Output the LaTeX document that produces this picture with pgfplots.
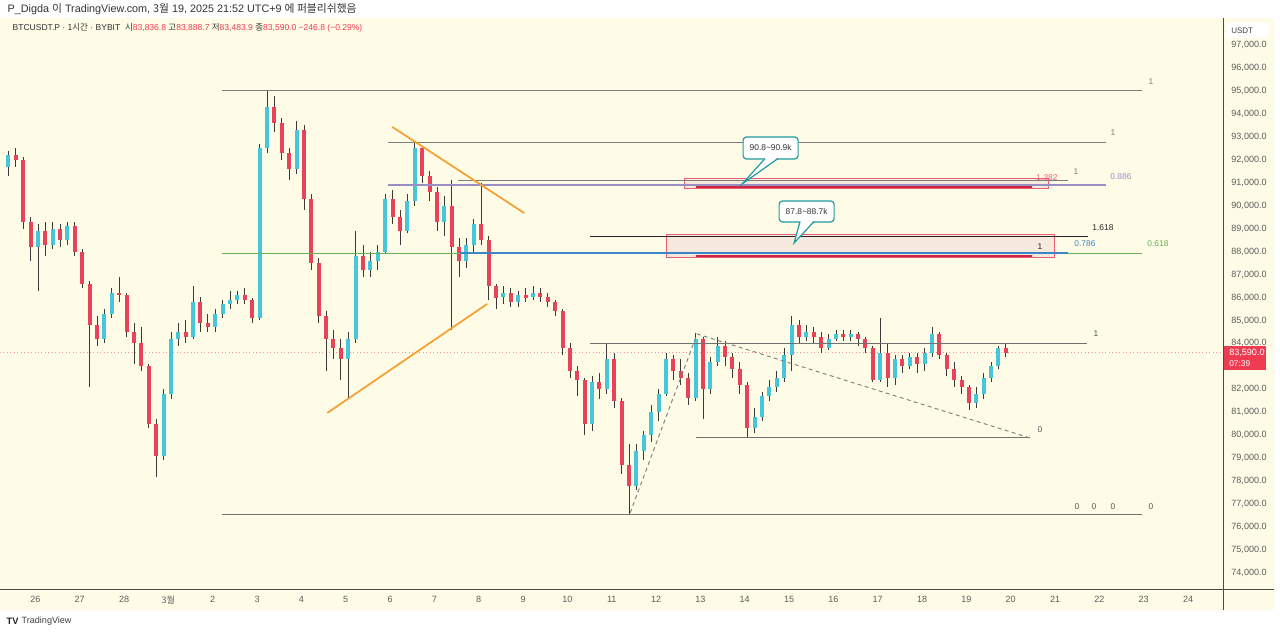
\documentclass[border=0pt]{standalone}
\usepackage{pgfplots}
\pgfplotsset{compat=1.18}
\usepackage{pgfplotstable}
\usepackage{fontspec}
\setmainfont{Liberation Sans}
\newfontfamily\kr{Noto Sans CJK KR}
\definecolor{cream}{HTML}{FEFCE6}
\definecolor{upc}{HTML}{45C6DB}
\definecolor{dnc}{HTML}{E8435A}
\definecolor{wickc}{HTML}{3A3A3A}
\definecolor{fibgray}{HTML}{7E7E7E}
\definecolor{fibpurple}{HTML}{9A8FC4}
\definecolor{fibblue}{HTML}{3D85C6}
\definecolor{fibgreen}{HTML}{6AAF5B}
\definecolor{boxred}{HTML}{EE5C74}
\definecolor{boxfill}{HTML}{F6EADF}
\definecolor{dred}{HTML}{D0253E}
\definecolor{orng}{HTML}{F5A030}
\definecolor{teal2}{HTML}{1F9AA0}
\definecolor{pricered}{HTML}{EF3B52}
\definecolor{labgray}{HTML}{5D5D5D}
\definecolor{axisc}{HTML}{4A4A4A}
\tikzset{lab/.style={font=\fontsize{6.3}{7}\selectfont, inner sep=0pt}}
\pgfplotstableread{
k o h l c
0 91700 92400 91300 92200
1 92200 92500 91700 92000
2 92000 92100 89000 89300
3 89300 89500 87600 88200
4 88200 89200 86300 88900
5 88900 89300 87800 88300
6 88300 89300 88100 89000
7 89000 89200 88200 88500
8 88500 89300 88300 89100
9 89100 89300 87800 88000
10 88000 88100 86400 86600
11 86600 86700 82100 84800
12 84800 85200 83900 84200
13 84200 85500 84000 85300
14 85300 86400 85100 86200
15 86200 86900 85800 86100
16 86100 86200 84300 84500
17 84500 84900 83100 84000
18 84000 84700 82800 83000
19 83000 83100 80300 80500
20 80500 80700 78200 79100
21 79100 82000 78900 81800
22 81800 84500 81600 84200
23 84200 84900 83900 84500
24 84500 85000 84000 84300
25 84300 86500 84200 85800
26 85800 86000 84500 84900
27 84900 85300 84500 84700
28 84700 85500 84500 85300
29 85300 85900 85100 85700
30 85700 86300 85500 85900
31 85900 86300 85700 86100
32 86100 86400 85700 85900
33 85900 86000 84900 85100
34 85100 92700 85000 92500
35 92500 95050 92300 94300
36 94300 94800 93200 93600
37 93600 93800 92000 92300
38 92300 92500 91100 91600
39 91600 93700 91400 93300
40 93300 93500 89800 90300
41 90300 90500 87200 87500
42 87500 87700 84900 85200
43 85200 85400 82800 84200
44 84200 84600 83300 83800
45 83800 84200 82400 83300
46 83300 84500 81600 84200
47 84200 88900 84000 87800
48 87800 88300 86900 87200
49 87200 88000 86900 87600
50 87600 88300 87200 88000
51 88000 90500 87900 90300
52 90300 90700 89200 89500
53 89500 89800 88300 88900
54 88900 90500 88800 90200
55 90200 92800 90000 92500
56 92500 92600 91000 91300
57 91300 91500 90200 90600
58 90600 90800 88900 89300
59 89300 90400 88700 90000
60 90000 91100 84600 88200
61 88200 88600 86900 87600
62 87600 88600 87300 88300
63 88300 89400 88000 89200
64 89200 91000 88300 88500
65 88500 88700 85900 86500
66 86500 86600 85500 86000
67 86000 86500 85700 86200
68 86200 86400 85600 85800
69 85800 86300 85600 86100
70 86100 86400 85800 86000
71 86000 86500 85900 86200
72 86200 86400 85800 86000
73 86000 86200 85600 85800
74 85800 85900 85200 85400
75 85400 85500 83500 83800
76 83800 84000 82500 82800
77 82800 83000 81700 82400
78 82400 82500 80000 80500
79 80500 82600 80200 82300
80 82300 82700 81600 82000
81 82000 84000 81800 83300
82 83300 83600 81200 81500
83 81500 81600 78300 78700
84 78700 79600 76550 77800
85 77800 79600 77600 79300
86 79300 80200 78900 80000
87 80000 81300 79700 81000
88 81000 82000 80600 81800
89 81800 83600 81700 83300
90 83300 83500 82400 82800
91 82800 83300 82200 82500
92 82500 82700 81300 81600
93 81600 84450 81500 84200
94 84200 84300 80700 82000
95 82000 83400 81800 83200
96 83200 84300 83000 83900
97 83900 84100 83000 83400
98 83400 83600 82500 82900
99 82900 83200 81800 82200
100 82200 82300 79900 80300
101 80300 81200 80100 80800
102 80800 81900 80600 81700
103 81700 82400 81500 82100
104 82100 82800 81900 82500
105 82500 83800 82300 83500
106 83500 85200 82800 84800
107 84800 85000 84000 84300
108 84300 84800 84100 84500
109 84500 84700 84000 84300
110 84300 84500 83600 83800
111 83800 84400 83700 84200
112 84200 84600 84100 84400
113 84400 84600 84100 84300
114 84300 84600 84100 84400
115 84400 84500 83900 84200
116 84200 84300 83600 83800
117 83800 83900 82300 82400
118 82400 85100 82300 83600
119 83600 84000 82100 82500
120 82500 83500 82200 83300
121 83300 83500 82700 83000
122 83000 83600 82900 83400
123 83400 83600 82700 83100
124 83100 83800 82800 83600
125 83600 84700 83400 84400
126 84400 84500 83300 83500
127 83500 83600 82600 82900
128 82900 83200 82100 82400
129 82400 82600 81800 82100
130 82100 82200 81100 81400
131 81400 82100 81200 81800
132 81800 82700 81600 82500
133 82500 83200 82300 83000
134 83000 83900 82900 83800
135 83800 84000 83400 83590
}\candles
\begin{document}
\begin{tikzpicture}
\begin{scope}[x=0.75pt,y=-0.75pt,yshift=475.5pt]
\path[use as bounding box] (0,0) rectangle (1280,634);
\fill[white] (0,0) rectangle (1280,634);
\fill[cream] (0,18) rectangle (1274,610);
\end{scope}
\begin{axis}[at={(0pt,33pt)}, anchor=south west, scale only axis,
  width=916.5pt, height=429pt,
  xmin=-0.789, xmax=26.766, ymin=73265, ymax=98176,
  axis line style={draw=none}, tick style={draw=none},
  xtick={0,1,...,26},
  xticklabels={26,27,28,{\kr 3월},2,3,4,5,6,7,8,9,10,11,12,13,14,15,16,17,18,19,20,21,22,23,24},
  xticklabel style={anchor=center, yshift=-7.5pt, font=\fontsize{6.8}{8}\selectfont, text=labgray},
  ytick={74000,75000,76000,77000,78000,79000,80000,81000,82000,84000,85000,86000,87000,88000,89000,90000,91000,92000,93000,94000,95000,96000,97000},
  yticklabel pos=right,
  scaled y ticks=false,
  yticklabel style={anchor=west, xshift=3.5pt, font=\fontsize{6.8}{8}\selectfont, text=labgray,
    /pgf/number format/.cd, fixed, fixed zerofill, precision=1, 1000 sep={,}, assume math mode=true},
  clip=true,
]
% current price line
\draw[pricered!55, dotted, line width=0.6pt] (axis cs:-0.8,83590) -- (axis cs:26.8,83590);
% wicks
\addplot[draw=none, mark=none, forget plot,
  error bars/.cd, y dir=both, y explicit, error mark=none,
  error bar style={draw=wickc, line width=0.55pt}]
  table[x expr=\thisrow{k}/6-0.61, y expr=(\thisrow{h}+\thisrow{l})/2,
        y error expr=(\thisrow{h}-\thisrow{l})/2] {\candles};
% up bodies
\addplot[draw=none, mark=none, forget plot,
  x filter/.expression={\thisrow{c}>=\thisrow{o} ? x : nan},
  error bars/.cd, y dir=both, y explicit, error mark=none,
  error bar style={draw=upc, line width=3pt}]
  table[x expr=\thisrow{k}/6-0.61, y expr=(\thisrow{o}+\thisrow{c})/2,
        y error expr=abs(\thisrow{c}-\thisrow{o})/2] {\candles};
% down bodies
\addplot[draw=none, mark=none, forget plot,
  x filter/.expression={\thisrow{c}<\thisrow{o} ? x : nan},
  error bars/.cd, y dir=both, y explicit, error mark=none,
  error bar style={draw=dnc, line width=3pt}]
  table[x expr=\thisrow{k}/6-0.61, y expr=(\thisrow{o}+\thisrow{c})/2,
        y error expr=abs(\thisrow{c}-\thisrow{o})/2] {\candles};
% boxes
\filldraw[fill=boxfill, draw=boxred, line width=0.5pt] (axis cs:14.634,91207) rectangle (axis cs:22.841,90771);
\filldraw[fill=boxfill, draw=boxred, line width=0.5pt] (axis cs:14.228,88767) rectangle (axis cs:22.976,87765);
% fib lines
\draw[fibgray, line width=0.6pt] (axis cs:4.216,95000) -- (axis cs:24.960,95000);
\draw[fibgray, line width=0.6pt] (axis cs:7.959,92750) -- (axis cs:24.149,92750);
\draw[fibgray, line width=0.6pt] (axis cs:9.538,91080) -- (axis cs:23.292,91080);
\draw[fibpurple, line width=0.8pt] (axis cs:7.959,90900) -- (axis cs:24.149,90900);
\draw[dred, line width=1.1pt] (axis cs:14.904,90815) -- (axis cs:22.480,90815);
\draw[black!85, line width=0.6pt] (axis cs:12.514,88650) -- (axis cs:23.743,88650);
\draw[fibgreen, line width=0.6pt] (axis cs:4.216,87930) -- (axis cs:24.960,87930);
\draw[fibblue, line width=1.2pt] (axis cs:9.583,87950) -- (axis cs:23.292,87950);
\draw[dred, line width=1.1pt] (axis cs:14.904,87800) -- (axis cs:22.480,87800);
\draw[fibgray!90!black, line width=0.6pt] (axis cs:12.514,84000) -- (axis cs:23.721,84000);
\draw[fibgray!90!black, line width=0.8pt] (axis cs:14.904,79880) -- (axis cs:22.435,79880);
\draw[fibgray!90!black, line width=0.7pt] (axis cs:4.216,76550) -- (axis cs:24.960,76550);
% dashed
\draw[fibgray, line width=0.7pt, dash pattern=on 3pt off 2.5pt] (axis cs:13.416,76620) -- (axis cs:14.926,84410) -- (axis cs:22.435,79880);
% orange triangle
\draw[orng, line width=1.3pt] (axis cs:8.050,93430) -- (axis cs:11.026,89680);
\draw[orng, line width=1.3pt] (axis cs:6.584,80970) -- (axis cs:10.192,85720);
% labels
\node[lab, text=fibgray] at (axis cs:25.163,95388) {1};
\node[lab, text=fibgray] at (axis cs:24.307,93167) {1};
\node[lab, text=fibgray] at (axis cs:23.473,91468) {1};
\node[lab, text=fibpurple] at (axis cs:24.487,91250) {0.886};
\node[lab, text=pricered!80] at (axis cs:22.818,91207) {1.382};
\node[lab, text=black!85] at (axis cs:24.081,89028) {1.618};
\node[lab, text=black!85] at (axis cs:22.661,88200) {1};
\node[lab, text=fibblue] at (axis cs:23.675,88331) {0.786};
\node[lab, text=fibgreen] at (axis cs:25.321,88331) {0.618};
\node[lab, text=fibgray!70!black] at (axis cs:23.924,84411) {1};
\node[lab, text=fibgray!70!black] at (axis cs:22.661,80229) {0};
\node[lab, text=fibgray!70!black] at (axis cs:23.495,76876) {0};
\node[lab, text=fibgray!70!black] at (axis cs:23.878,76876) {0};
\node[lab, text=fibgray!70!black] at (axis cs:24.307,76876) {0};
\node[lab, text=fibgray!70!black] at (axis cs:25.163,76876) {0};
% callout 1
\filldraw[fill=white, draw=teal2, line width=0.9pt, rounded corners=2.5pt] (axis cs:15.964,92993) rectangle (axis cs:17.204,92034);
\fill[white] (axis cs:16.460,92100) -- (axis cs:15.941,90945) -- (axis cs:16.753,92100) -- cycle;
\draw[teal2, line width=0.9pt] (axis cs:16.460,92056) -- (axis cs:15.941,90945) -- (axis cs:16.753,92056);
\node[lab, text=black!80] at (axis cs:16.584,92513) {90.8\textasciitilde 90.9k};
% callout 2
\filldraw[fill=white, draw=teal2, line width=0.9pt, rounded corners=2.5pt] (axis cs:16.776,90205) rectangle (axis cs:18.016,89290);
\fill[white] (axis cs:17.249,89360) -- (axis cs:17.114,88375) -- (axis cs:17.565,89360) -- cycle;
\draw[teal2, line width=0.9pt] (axis cs:17.249,89312) -- (axis cs:17.114,88375) -- (axis cs:17.565,89312);
\node[lab, text=black!80] at (axis cs:17.396,89747) {87.8\textasciitilde 88.7k};
\end{axis}
\begin{scope}[x=0.75pt,y=-0.75pt,yshift=475.5pt]
\draw[axisc, line width=0.6pt] (0,590) -- (1274,590);
\draw[axisc, line width=0.6pt] (1223,18) -- (1223,610);
\node[anchor=west, inner sep=0pt, font=\fontsize{8.1}{9}\selectfont, text=black!80] at (7,9)
  {P\_Digda {\kr 이} TradingView.com, {\kr 3월} 19, 2025 21:52 UTC+9 {\kr 에 퍼블리쉬했음}};
\node[anchor=west, inner sep=0pt, font=\fontsize{6.4}{8}\selectfont, text=black!80] at (12,28)
  {BTCUSDT.P · {\kr 1시간} · BYBIT\ \ {\kr 시}\textcolor{pricered}{83,836.8}\ {\kr 고}\textcolor{pricered}{83,888.7}\ {\kr 저}\textcolor{pricered}{83,483.9}\ {\kr 종}\textcolor{pricered}{83,590.0}\ \textcolor{pricered}{−246.8 (−0.29\%)}};
\filldraw[fill=white, draw=white, rounded corners=1.5pt] (1226,23) rectangle (1268,38);
\node[anchor=west, inner sep=0pt, font=\fontsize{6}{7}\selectfont, text=black!75] at (1231,31) {USDT};
\fill[pricered] (1224,346) rectangle (1266,370);
\node[anchor=west, inner sep=0pt, font=\fontsize{6.8}{8}\selectfont, text=white] at (1229,353) {83,590.0};
\node[anchor=west, inner sep=0pt, font=\fontsize{6.3}{7}\selectfont, text=white] at (1229,364) {07:39};
\node[anchor=west, inner sep=0pt, font=\bfseries\fontsize{7}{8}\selectfont, text=black!85] at (6,621) {TV};
\node[anchor=west, inner sep=0pt, font=\fontsize{6.8}{8}\selectfont, text=black!75] at (21,621) {TradingView};
\end{scope}
\end{tikzpicture}
\end{document}
